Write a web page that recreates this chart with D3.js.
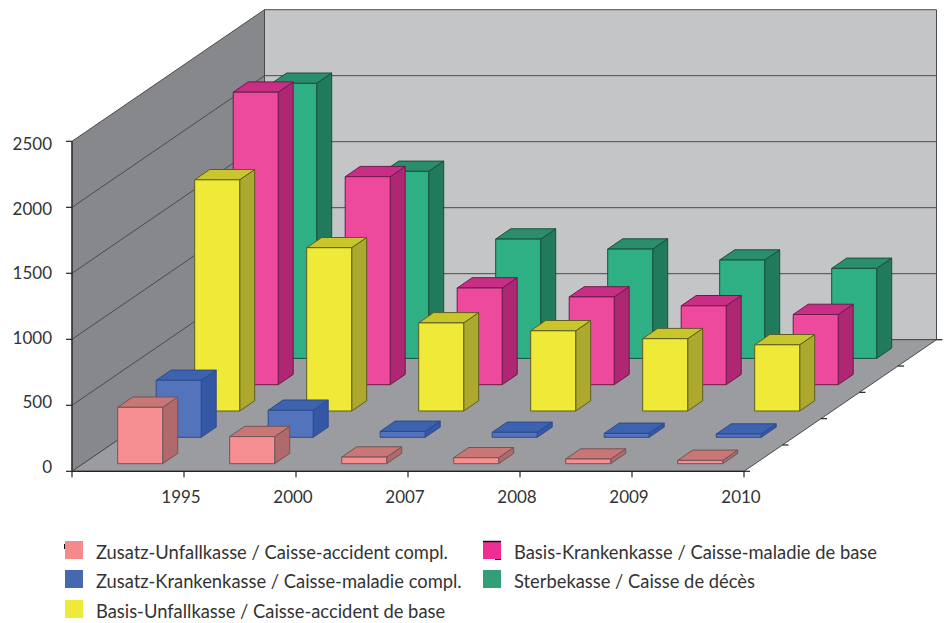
<!DOCTYPE html>
<html><head><meta charset="utf-8">
<script src="https://cdn.jsdelivr.net/npm/d3@7/dist/d3.min.js"></script>
<style>html,body{margin:0;padding:0;background:#fff}svg{display:block}text{font-family:Lato,"Open Sans",sans-serif;fill:#333}</style>
</head><body><svg id="c" width="947" height="623"></svg>
<script>
const categories = ["1995","2000","2007","2008","2009","2010"];
const yTicks = [0,500,1000,1500,2000,2500];
const zusatzUnfall = [427,205,50,45,35,25];
const zusatzKranken = [432,205,45,38,30,25];
const basisUnfall = [1752,1237,668,608,548,502];
const basisKranken = [2216,1576,733,665,598,532];
const sterbekasse = [2084,1417,904,828,745,682];
const seriesNames = ["Zusatz-Unfallkasse / Caisse-accident compl.","Zusatz-Krankenkasse / Caisse-maladie compl.","Basis-Unfallkasse / Caisse-accident de base","Basis-Krankenkasse / Caisse-maladie de base","Sterbekasse / Caisse de décès"];
const seriesValues = [zusatzUnfall,zusatzKranken,basisUnfall,basisKranken,sterbekasse];
const faceColors = ["#f68f91","#5374bd","#efea38","#ee4a9d","#2fb084"];
const sideColors = ["#b06a6c","#3558a6","#ada92f","#ad2772","#217a5c"];
const topColors = ["#c97676","#3d62b0","#c9c52d","#c92e86","#2a8e6c"];
const strokeColors = ["#6e5557","#2c4a8c","#5e5c22","#6e1a4c","#1a4f3c"];
const swatchColors = ["#f58a8d","#4668b1","#eeea3a","#ee2e93","#339f77"];

const svg = d3.select("#c");
const left=72, right=744, y0=471.3, y1=141.3;
const y = d3.scaleLinear().domain([0,2500]).range([y0,y1]);
const labelY = d3.scaleLinear().domain([0,2500]).range([473,150]);
const x = d3.scaleBand().domain(categories).range([left+1,right+1]).paddingInner(0.598).paddingOuter(0.299);
const tickX = d3.scalePoint().domain(["",...categories]).range([left,right]);
const dx = d3.scaleLinear().domain([0,5]).range([0,192.5]);
const dy = d3.scaleLinear().domain([0,5]).range([0,-131.6]);
const P = (px,py,w)=>[px+dx(w),py+dy(w)];
const poly = pts=>pts.map(p=>p.map(v=>v.toFixed(1)).join(",")).join(" ");

// walls and floor
const gw = svg.append("g");
const edge="#4a4b4e";
gw.append("polygon").attr("points",poly([P(left,y(0),0),P(left,y(2500),0),P(left,y(2500),5),P(left,y(0),5)])).attr("fill","#87888c").attr("stroke",edge).attr("stroke-width",1);
gw.append("polygon").attr("points",poly([P(left,y(0),5),P(left,y(2500),5),P(right,y(2500),5),P(right,y(0),5)])).attr("fill","#c4c5c7").attr("stroke",edge).attr("stroke-width",1);
gw.append("polygon").attr("points",poly([P(left,y(0),0),P(right,y(0),0),P(right,y(0),5),P(left,y(0),5)])).attr("fill","#9a9c9f").attr("stroke",edge).attr("stroke-width",1);
// grid
yTicks.slice(1,-1).forEach(t=>{
  gw.append("polyline").attr("fill","none").attr("stroke",edge).attr("stroke-width",1)
    .attr("points",poly([P(left,y(t),0),P(left,y(t),5),P(right,y(t),5)]));
});

// bars: back to front
const barFront=0.29, barDepth=0.39;
const gb = svg.append("g").attr("stroke-width",1).attr("stroke-linejoin","round");
d3.range(4,-1,-1).forEach(s=>{
  categories.forEach((c,i)=>{
    const v=seriesValues[s][i], a=x(c), b=a+x.bandwidth(), w0=s+barFront, w1=w0+barDepth;
    const g=gb.append("g").attr("stroke",strokeColors[s]);
    g.append("polygon").attr("fill",sideColors[s]).attr("points",poly([P(b,y(0),w0),P(b,y(0),w1),P(b,y(v),w1),P(b,y(v),w0)]));
    g.append("polygon").attr("fill",topColors[s]).attr("points",poly([P(a,y(v),w0),P(b,y(v),w0),P(b,y(v),w1),P(a,y(v),w1)]));
    g.append("polygon").attr("fill",faceColors[s]).attr("points",poly([P(a,y(0),w0),P(b,y(0),w0),P(b,y(v),w0),P(a,y(v),w0)]));
  });
});

// axes
const ax = svg.append("g").attr("stroke","#222").attr("stroke-width",1.2);
ax.append("line").attr("x1",left).attr("x2",left).attr("y1",y(0)).attr("y2",y(2500));
ax.append("line").attr("x1",left).attr("x2",right).attr("y1",y(0)).attr("y2",y(0));
yTicks.forEach(t=>ax.append("line").attr("x1",left-6).attr("x2",left).attr("y1",y(t)).attr("y2",y(t)));
tickX.domain().forEach(c=>ax.append("line").attr("x1",tickX(c)).attr("x2",tickX(c)).attr("y1",y(0)).attr("y2",y(0)+6));
d3.range(0,6).forEach(k=>{const p=P(right,y(0),k);ax.append("line").attr("x1",p[0]).attr("x2",p[0]+6).attr("y1",p[1]).attr("y2",p[1]);});

yTicks.forEach(t=>svg.append("text").attr("x",52).attr("y",labelY(t)).attr("text-anchor","end").attr("font-size",17).text(t));
categories.forEach(c=>svg.append("text").attr("x",tickX(c)-3).attr("y",503).attr("text-anchor","middle").attr("font-size",17).text(c));

// legend
const legendPos=[[65,541],[65,570],[65,600],[483,541],[483,570]];
seriesNames.forEach((n,i)=>{
  const [lx,ly]=legendPos[i];
  svg.append("rect").attr("x",lx).attr("y",ly).attr("width",18).attr("height",18).attr("fill",swatchColors[i]);
  svg.append("text").attr("x",lx+31).attr("y",ly+18).attr("font-size",18.35).text(n);
});
svg.append("line").attr("x1",483).attr("x2",501).attr("y1",541.5).attr("y2",541.5).attr("stroke","#111").attr("stroke-width",1.5);
svg.append("line").attr("x1",495).attr("x2",501).attr("y1",559.5).attr("y2",559.5).attr("stroke","#111").attr("stroke-width",1);
svg.append("line").attr("x1",64.5).attr("x2",64.5).attr("y1",544).attr("y2",549).attr("stroke","#111").attr("stroke-width",1);
</script></body></html>
